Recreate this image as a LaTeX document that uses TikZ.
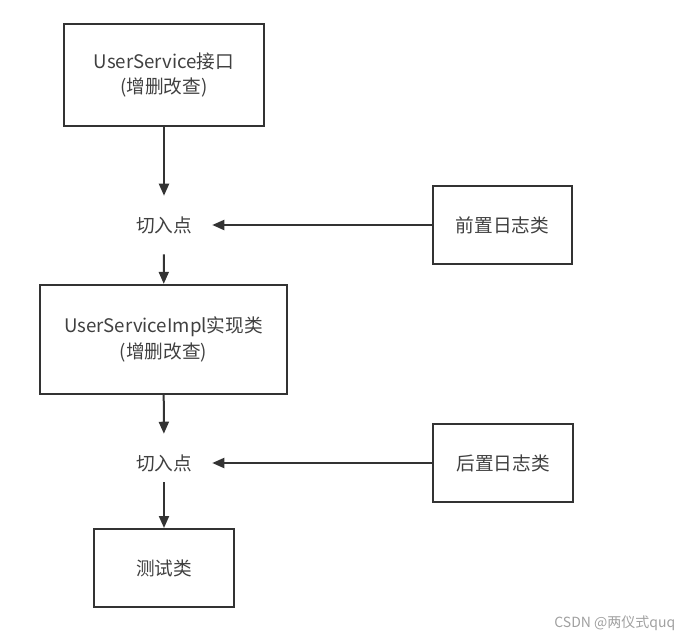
\documentclass[tikz,border=0pt]{standalone}
\usepackage{fontspec}
\setmainfont{Noto Sans CJK SC}
\usetikzlibrary{arrows.meta,positioning}
\definecolor{linegray}{HTML}{333333}
\definecolor{textgray}{HTML}{404040}
\definecolor{markgray}{HTML}{A0A0A0}
\tikzstyle{unit} = [rectangle, draw=linegray, line width=1.5pt, text=textgray, align=center, font=\fontsize{14}{19}\selectfont]
\tikzstyle{cutpoint} = [rectangle, text=textgray, minimum width=72pt, minimum height=43.5pt, font=\fontsize{14}{19}\selectfont]
\tikzstyle{flow} = [draw=linegray, line width=1.5pt, -{Triangle[length=9pt,width=7.5pt]}]
\tikzstyle{watermark} = [text=markgray, font=\fontsize{10.5}{12}\selectfont]

\begin{document}
\begin{tikzpicture}[x=0.75pt, y=-0.75pt]
    \useasboundingbox (0,0) rectangle (693,643);
    \node[unit, minimum width=150pt, minimum height=76.5pt] (iface) at (164,75) {UserService接口\\(增删改查)};
    \node[cutpoint] (cut1) at (164,225) {切入点};
    \node[unit, minimum width=104pt, minimum height=58.5pt] (before) at (502.5,225) {前置日志类};
    \node[unit, minimum width=185pt, minimum height=82pt] (impl) at (163.5,339.5) {UserServiceImpl实现类\\(增删改查)};
    \node[cutpoint] (cut2) at (164,463) {切入点};
    \node[unit, minimum width=105pt, minimum height=58pt] (after) at (503,463) {后置日志类};
    \node[unit, minimum width=105pt, minimum height=58.5pt] (test) at (164,568) {测试类};
    \node[watermark, anchor=east] (mark) at (680,623) {CSDN @两仪式quq};

    \draw[flow] (iface) -- (cut1);
    \draw[flow] (before) -- (cut1);
    \draw[flow] (cut1) -- (impl);
    \draw[flow] (impl) -- (cut2);
    \draw[flow] (after) -- (cut2);
    \draw[flow, shorten <=-7.5pt] (cut2) -- (test);
\end{tikzpicture}
\end{document}
